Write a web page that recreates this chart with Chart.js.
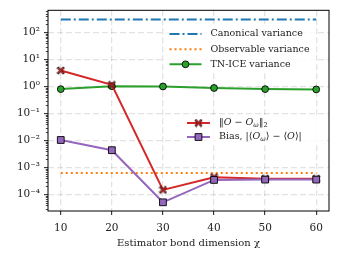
<!DOCTYPE html>
<html>
<head>
<meta charset="utf-8">
<script src="https://cdn.jsdelivr.net/npm/chart.js@4/dist/chart.umd.min.js"></script>
<style>
  html, body { margin: 0; padding: 0; background: #fff; }
</style>
</head>
<body>
<canvas id="chart" width="340" height="259"></canvas>
<script>
// data
const bondDims = [10, 20, 30, 40, 50, 60];
const canonicalVar = [300, 300, 300, 300, 300, 300];
const observableVar = [6.3e-4, 6.3e-4, 6.3e-4, 6.3e-4, 6.3e-4, 6.3e-4];
const tnIceVar = [0.80, 1.02, 1.00, 0.88, 0.80, 0.78];
const normError = [3.9, 1.15, 1.5e-4, 4.4e-4, 3.9e-4, 3.9e-4];
const bias = [1.05e-2, 4.4e-3, 5.2e-5, 3.5e-4, 3.6e-4, 3.6e-4];

const xTicks = [10, 20, 30, 40, 50, 60];
const yTicks = [1e-4, 1e-3, 1e-2, 1e-1, 1, 10, 100];
const yTickLabels = ['10⁻⁴', '10⁻³', '10⁻²', '10⁻¹', '10⁰', '10¹', '10²'];

const FONT = "'DejaVu Serif', serif";

// filled X marker like matplotlib 'X'
function makeXMarker(size, fill) {
  const c = document.createElement('canvas');
  c.width = size; c.height = size;
  const g = c.getContext('2d');
  const m = size / 2, a = size / 2 - 0.8, w = 1.3;
  g.translate(m, m);
  g.beginPath();
  const pts = [[-a + w, -a], [0, -w], [a - w, -a], [a, -a + w], [w, 0], [a, a - w],
               [a - w, a], [0, w], [-a + w, a], [-a, a - w], [-w, 0], [-a, -a + w]];
  pts.forEach((p, i) => i ? g.lineTo(p[0], p[1]) : g.moveTo(p[0], p[1]));
  g.closePath();
  g.fillStyle = fill; g.fill();
  g.lineWidth = 0.8; g.strokeStyle = '#000'; g.stroke();
  return c;
}
const xMarker = makeXMarker(9, '#d62728');

const toPoints = (ys) => ys.map((y, i) => ({ x: bondDims[i], y: y }));

// draw mixed italic / subscript text
function drawRich(ctx, parts, x, y, size) {
  let cx = x;
  parts.forEach(p => {
    const s = p.sub ? size * 0.7 : size;
    ctx.font = (p.it ? 'italic ' : '') + s + 'px ' + FONT;
    ctx.fillText(p.t, cx, y + (p.sub ? 2.5 : 0));
    cx += ctx.measureText(p.t).width;
  });
}

const legendPlugin = {
  id: 'legends',
  afterDatasetsDraw(chart) {
    const ctx = chart.ctx;
    const ds = chart.data.datasets;
    ctx.save();
    ctx.fillStyle = 'rgba(255,255,255,0.8)';
    ctx.fillRect(165, 24, 150, 49);
    ctx.fillRect(181, 115, 146, 30);
    ctx.textBaseline = 'middle';
    const rows1 = [
      { d: ds[4], y: 34, label: [{ t: 'Canonical variance' }] },
      { d: ds[3], y: 49.3, label: [{ t: 'Observable variance' }] },
      { d: ds[2], y: 64.3, label: [{ t: 'TN-ICE variance' }] }
    ];
    const rows2 = [
      { d: ds[1], y: 123, label: [{ t: '‖' }, { t: 'O', it: 1 }, { t: ' − ' }, { t: 'O', it: 1 }, { t: 'ω', it: 1, sub: 1 }, { t: '‖' }, { t: '2', sub: 1 }] },
      { d: ds[0], y: 137, label: [{ t: 'Bias, |⟨' }, { t: 'O', it: 1 }, { t: 'ω', it: 1, sub: 1 }, { t: '⟩ − ⟨' }, { t: 'O', it: 1 }, { t: '⟩|' }] }
    ];
    const drawRows = (rows, x0, x1, tx) => {
      rows.forEach(r => {
        const d = r.d;
        const mx = (x0 + x1) / 2;
        ctx.save();
        ctx.strokeStyle = d.borderColor;
        ctx.lineWidth = d.borderWidth;
        ctx.setLineDash(d.borderDash || []);
        ctx.beginPath(); ctx.moveTo(x0, r.y); ctx.lineTo(x1, r.y); ctx.stroke();
        ctx.restore();
        if (d.pointRadius > 0) {
          ctx.save();
          ctx.fillStyle = d.pointBackgroundColor; ctx.strokeStyle = '#000'; ctx.lineWidth = d.pointBorderWidth;
          if (d.pointStyle === 'circle' || d.pointStyle === 'rect') {
            ctx.beginPath();
            if (d.pointStyle === 'circle') ctx.arc(mx, r.y, d.pointRadius, 0, Math.PI * 2);
            else { const h = d.pointRadius * Math.SQRT1_2; ctx.rect(mx - h, r.y - h, 2 * h, 2 * h); }
            ctx.fill(); ctx.stroke();
          } else {
            ctx.drawImage(d.pointStyle, mx - d.pointStyle.width / 2, r.y - d.pointStyle.height / 2);
          }
          ctx.restore();
        }
        ctx.fillStyle = '#222';
        drawRich(ctx, r.label, tx, r.y, 9.5);
      });
    };
    drawRows(rows1, 169.5, 201.5, 210.5);
    drawRows(rows2, 187, 210, 219);
    ctx.restore();
  }
};

const framePlugin = {
  id: 'frame',
  afterDraw(chart) {
    const { ctx, chartArea: a, scales } = chart;
    const ys = scales.y;
    ctx.save();
    // minor ticks of the log axis
    ctx.strokeStyle = '#000'; ctx.lineWidth = 0.7;
    for (let e = -5; e <= 2; e++) {
      for (let m = 2; m <= 9; m++) {
        const v = m * Math.pow(10, e);
        if (v < ys.min || v > ys.max) continue;
        const py = Math.round(ys.getPixelForValue(v)) + 0.5;
        ctx.beginPath(); ctx.moveTo(a.left - 2.2, py); ctx.lineTo(a.left, py); ctx.stroke();
      }
    }
    ctx.lineWidth = 1; ctx.strokeStyle = '#000';
    ctx.strokeRect(a.left, a.top, a.right - a.left, a.bottom - a.top);
    ctx.restore();
  }
};

const gridCommon = {
  color: 'rgba(0,0,0,0.11)',
  lineWidth: 1.3,
  tickColor: '#000',
  tickLength: 4,
  tickWidth: 0.9,
  tickBorderDash: []
};

new Chart(document.getElementById('chart').getContext('2d'), {
  type: 'line',
  data: {
    datasets: [
      {
        label: 'Bias', data: toPoints(bias), order: 1,
        borderColor: '#9467bd', borderWidth: 2,
        pointStyle: 'rect', pointRadius: 4.8, pointBorderWidth: 0.9,
        pointBackgroundColor: '#9467bd', pointBorderColor: '#000'
      },
      {
        label: 'norm', data: toPoints(normError), order: 2,
        borderColor: '#d62728', borderWidth: 2,
        pointStyle: xMarker, pointRadius: 4.5, pointBorderWidth: 0.9,
        pointBackgroundColor: '#d62728', pointBorderColor: '#000'
      },
      {
        label: 'TN-ICE variance', data: toPoints(tnIceVar), order: 3,
        borderColor: '#2ca02c', borderWidth: 2,
        pointStyle: 'circle', pointRadius: 3.4, pointBorderWidth: 0.9,
        pointBackgroundColor: '#2ca02c', pointBorderColor: '#000'
      },
      {
        label: 'Observable variance', data: toPoints(observableVar), order: 4,
        borderColor: '#ff7f0e', borderWidth: 2, borderDash: [2, 3],
        pointRadius: 0
      },
      {
        label: 'Canonical variance', data: toPoints(canonicalVar), order: 5,
        borderColor: '#1f77b4', borderWidth: 2, borderDash: [10, 3, 2, 3],
        pointRadius: 0
      }
    ]
  },
  plugins: [legendPlugin, framePlugin],
  options: {
    responsive: false,
    animation: false,
    layout: { padding: { top: 9.5, right: 11, left: 0, bottom: 0 } },
    plugins: { legend: { display: false }, tooltip: { enabled: false } },
    scales: {
      x: {
        type: 'linear', min: 7.5, max: 62.5,
        afterBuildTicks: (s) => { s.ticks = xTicks.map(v => ({ value: v })); },
        afterFit: (s) => { s.height = 48; },
        grid: gridCommon,
        border: { display: false, dash: [6, 3] },
        ticks: { color: '#222', font: { family: FONT, size: 10.5 }, padding: 7, maxRotation: 0 },
        title: {
          display: true, text: 'Estimator bond dimension χ', color: '#222',
          font: { family: FONT, size: 10 }, padding: { top: 0, bottom: 10 }
        }
      },
      y: {
        type: 'logarithmic', min: 2.48e-5, max: 659, bounds: 'data',
        afterBuildTicks: (s) => { s.ticks = yTicks.map(v => ({ value: v })); },
        afterFit: (s) => { s.width = 48; },
        grid: gridCommon,
        border: { display: false, dash: [6, 3] },
        ticks: {
          color: '#222', font: { family: FONT, size: 10.5 }, padding: 4, autoSkip: false,
          callback: (v) => { const i = yTicks.indexOf(v); return i >= 0 ? yTickLabels[i] : ''; }
        }
      }
    }
  }
});
</script>
</body>
</html>
